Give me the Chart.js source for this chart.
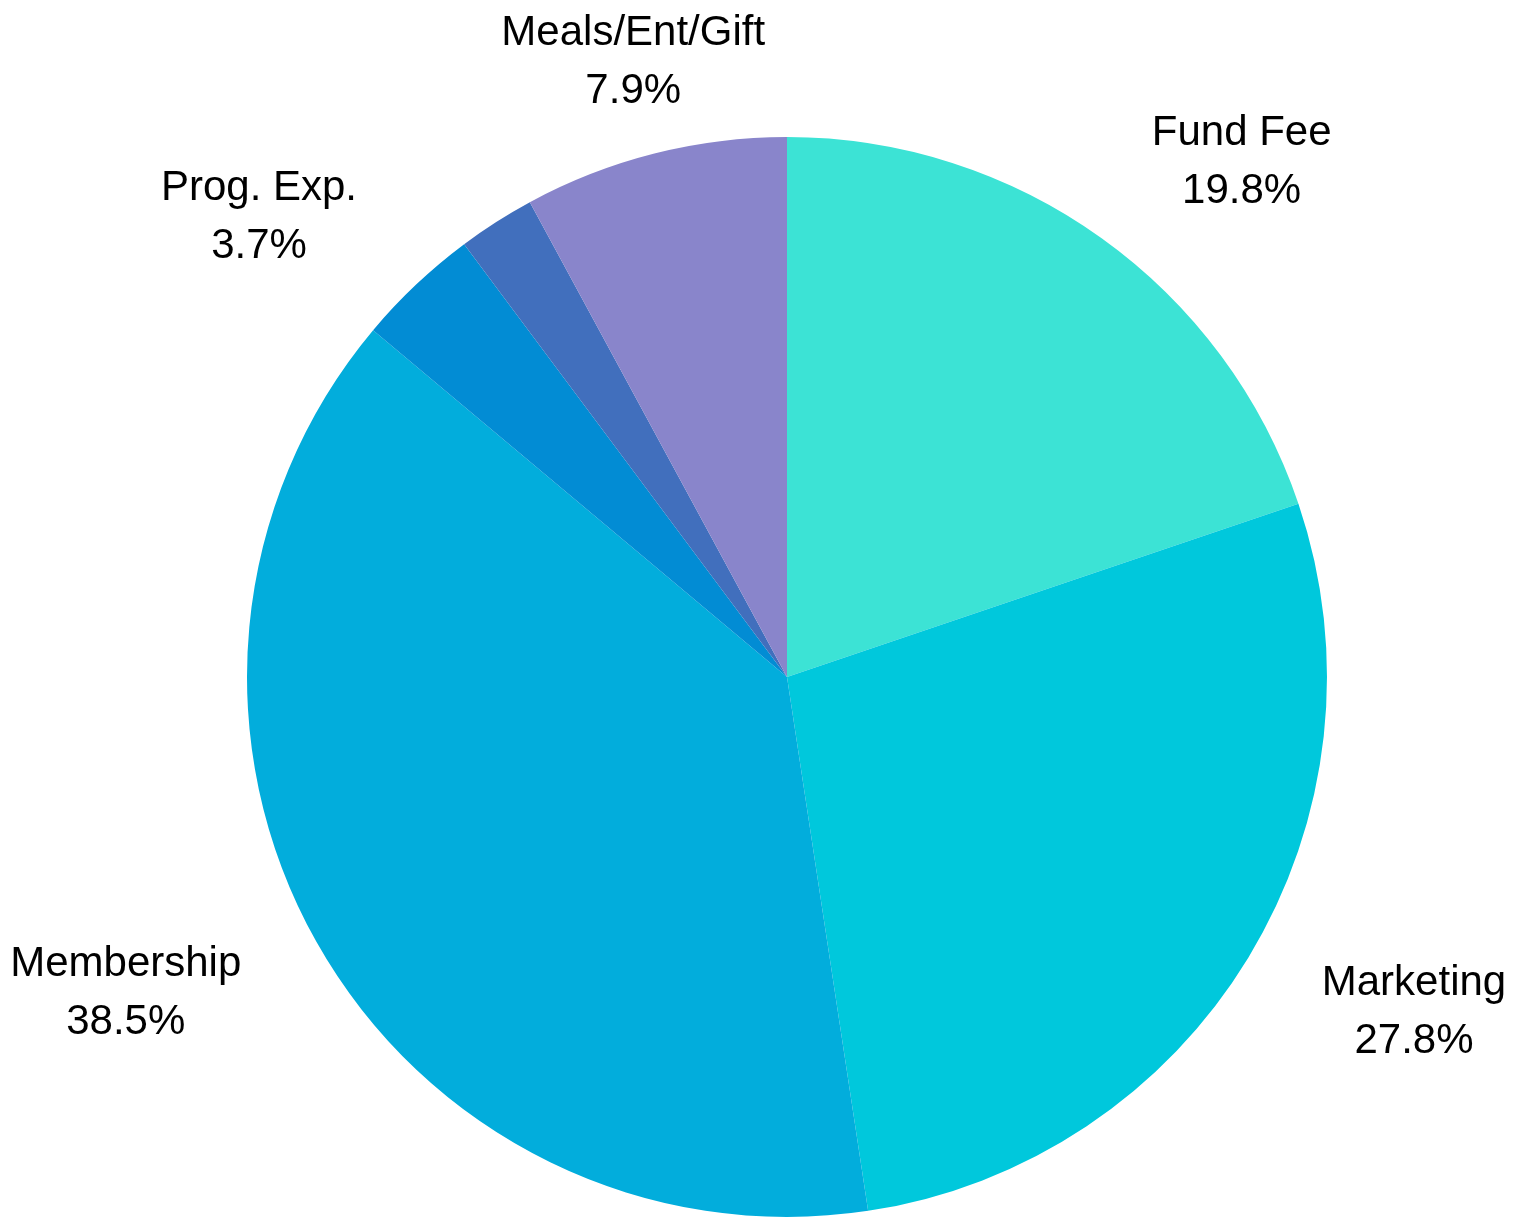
<!DOCTYPE html>
<html>
<head>
<meta charset="utf-8">
<title>Expense breakdown</title>
<script src="https://cdn.jsdelivr.net/npm/chart.js@4/dist/chart.umd.min.js"></script>
<style>
    html, body { margin: 0; padding: 0; background: #fff; overflow: hidden; }
    #wrap { width: 1520px; height: 1222px; position: relative; }
</style>
</head>
<body>
<div id="wrap"><canvas id="chart-pie"></canvas></div>
<script>
// slices, clockwise from 12 o'clock
const categories = ["Fund Fee", "Marketing", "Membership", "Prog. Exp.", "Other", "Meals/Ent/Gift"];
const shares = [19.8, 27.8, 38.5, 3.7, 2.3, 7.9];
const sliceColors = ["#3ce3d5", "#00c8dc", "#02addc", "#028cd4", "#416fbd", "#8985cb"];
const minLabelShare = 3; // smaller slices get no label

(function () {
    "use strict";

    // two-line outside labels: name + percent
    const outsideLabels = {
        id: "outsideLabels",
        afterDatasetsDraw(chart, args, opts) {
            const ctx = chart.ctx;
            const meta = chart.getDatasetMeta(0);
            ctx.save();
            ctx.font = `${opts.size}px "Liberation Sans", Arial, sans-serif`;
            ctx.fillStyle = opts.color;
            ctx.textBaseline = "middle";
            ctx.textAlign = "center";
            meta.data.forEach((arc, i) => {
                const v = shares[i];
                if (v < minLabelShare) { return; }
                const p = arc.getProps(["x", "y", "startAngle", "endAngle", "outerRadius"], true);
                const mid = (p.startAngle + p.endAngle) / 2;
                const ux = Math.cos(mid), uy = Math.sin(mid);
                const lines = [categories[i], v.toFixed(1) + "%"];
                const w = Math.max(...lines.map(t => ctx.measureText(t).width));
                let x = p.x + (p.outerRadius + opts.offsetX) * ux;
                const y = p.y + (p.outerRadius + opts.offsetY) * uy + opts.shiftY;
                if (Math.abs(ux) >= 0.3) { x += Math.sign(ux) * w / 2; }
                ctx.fillText(lines[0], x, y - opts.lineGap / 2);
                ctx.fillText(lines[1], x, y + opts.lineGap / 2);
            });
            ctx.restore();
        },
    };

    const el = document.getElementById("chart-pie");
    new Chart(el.getContext("2d"), {
        type: "pie",
        data: {
            labels: categories,
            datasets: [{
                data: shares,
                backgroundColor: sliceColors,
                borderWidth: 0,
            }],
        },
        options: {
            responsive: true, maintainAspectRatio: false, animation: false,
            layout: { padding: { left: 247, right: 193, top: 136, bottom: 4 } },
            plugins: {
                legend: { display: false },
                tooltip: { enabled: false },
                outsideLabels: { size: 42, color: "#000", offsetX: 86, offsetY: 98, shiftY: 4, lineGap: 58 },
            },
        },
        plugins: [outsideLabels],
    });
})();
</script>
</body>
</html>
